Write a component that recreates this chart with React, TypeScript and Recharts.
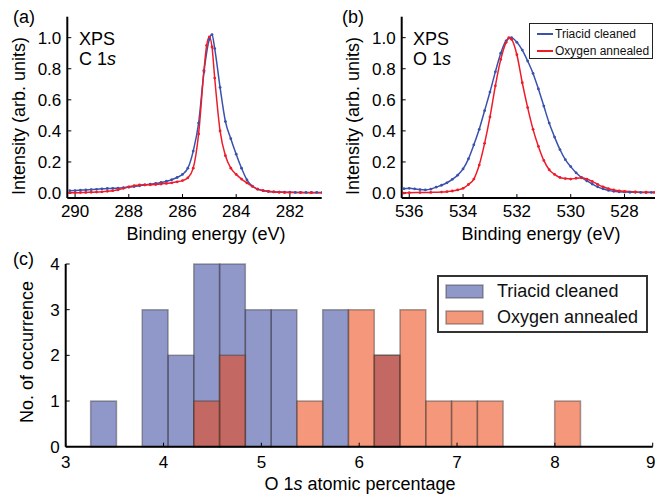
import { LineChart, Line, XAxis, YAxis, ComposedChart, ReferenceArea, Legend } from 'recharts';

const FONT = '"Liberation Sans", Arial, Helvetica, sans-serif';
const BLUE = '#3a52ad';
const RED = '#ee1c2a';
const HIST_BLUE = '#212f93';
const HIST_ORANGE = '#ed420d';

// (a) C 1s spectra
const c1sBlueEnergy = [290.2, 290.0, 289.8, 289.6, 289.4, 289.2, 289.0, 288.8, 288.6, 288.4, 288.2, 288.0, 287.8, 287.6, 287.4, 287.2, 287.0, 286.8, 286.6, 286.4, 286.2, 286.0, 285.8, 285.6, 285.4, 285.2, 285.0, 284.9, 284.8, 284.6, 284.4, 284.2, 284.0, 283.8, 283.6, 283.4, 283.2, 283.0, 282.8, 282.6, 282.4, 282.2, 282.0, 281.8, 281.6, 281.4, 281.2, 281.0, 280.8];
const c1sBlueIntensity = [0.015, 0.016, 0.018, 0.02, 0.022, 0.024, 0.027, 0.029, 0.03, 0.031, 0.034, 0.038, 0.042, 0.047, 0.052, 0.057, 0.062, 0.068, 0.076, 0.086, 0.1, 0.12, 0.16, 0.27, 0.45, 0.78, 0.99, 1.02, 0.93, 0.68, 0.46, 0.35, 0.25, 0.16, 0.085, 0.045, 0.025, 0.016, 0.011, 0.008, 0.006, 0.005, 0.005, 0.004, 0.004, 0.004, 0.004, 0.004, 0.004];
const c1sRedEnergy = [290.2, 290.0, 289.8, 289.6, 289.4, 289.2, 289.0, 288.8, 288.6, 288.4, 288.2, 288.0, 287.8, 287.6, 287.4, 287.2, 287.0, 286.8, 286.6, 286.4, 286.2, 286.0, 285.8, 285.6, 285.4, 285.2, 285.1, 285.0, 284.9, 284.8, 284.6, 284.4, 284.2, 284.0, 283.8, 283.6, 283.4, 283.2, 283.0, 282.8, 282.6, 282.4, 282.2, 282.0, 281.6, 281.2, 280.8];
const c1sRedIntensity = [0.002, 0.002, 0.003, 0.004, 0.005, 0.006, 0.008, 0.011, 0.015, 0.021, 0.03, 0.04, 0.047, 0.052, 0.053, 0.053, 0.055, 0.058, 0.062, 0.066, 0.072, 0.08, 0.098, 0.16, 0.38, 0.79, 0.95, 1.005, 0.94, 0.74, 0.4, 0.24, 0.16, 0.12, 0.09, 0.065, 0.043, 0.025, 0.015, 0.01, 0.007, 0.005, 0.004, 0.003, 0.003, 0.002, 0.002];

// (b) O 1s spectra
const o1sBlueEnergy = [536.2, 536.0, 535.8, 535.6, 535.4, 535.2, 535.0, 534.8, 534.6, 534.4, 534.2, 534.0, 533.8, 533.6, 533.4, 533.2, 533.0, 532.8, 532.6, 532.4, 532.2, 532.0, 531.8, 531.6, 531.4, 531.2, 531.0, 530.8, 530.6, 530.4, 530.2, 530.0, 529.8, 529.6, 529.4, 529.2, 529.0, 528.8, 528.6, 528.4, 528.2, 528.0, 527.8, 527.6, 527.4, 527.2, 527.0];
const o1sBlueIntensity = [0.028, 0.03, 0.027, 0.022, 0.02, 0.025, 0.038, 0.05, 0.066, 0.088, 0.115, 0.155, 0.22, 0.31, 0.41, 0.53, 0.65, 0.78, 0.9, 0.98, 1.0, 0.97, 0.92, 0.85, 0.77, 0.67, 0.56, 0.45, 0.36, 0.28, 0.215, 0.17, 0.13, 0.1, 0.078, 0.058, 0.04, 0.027, 0.017, 0.011, 0.008, 0.006, 0.005, 0.005, 0.004, 0.004, 0.004];
const o1sRedEnergy = [536.2, 536.0, 535.6, 535.2, 534.8, 534.6, 534.4, 534.2, 534.0, 533.8, 533.6, 533.4, 533.2, 533.0, 532.8, 532.6, 532.4, 532.3, 532.2, 532.0, 531.8, 531.6, 531.4, 531.2, 531.0, 530.8, 530.6, 530.4, 530.2, 530.0, 529.8, 529.6, 529.4, 529.2, 529.0, 528.8, 528.6, 528.4, 528.2, 528.0, 527.6, 527.2, 526.9];
const o1sRedIntensity = [0.0, 0.002, 0.003, 0.004, 0.006, 0.009, 0.013, 0.02, 0.03, 0.055, 0.09, 0.18, 0.32, 0.49, 0.69, 0.86, 0.97, 1.0, 0.99, 0.89, 0.71, 0.55, 0.41, 0.3, 0.21, 0.15, 0.12, 0.1, 0.093, 0.09, 0.095, 0.098, 0.09, 0.075, 0.056, 0.04, 0.028, 0.02, 0.014, 0.011, 0.007, 0.005, 0.004];

const intensityTicks = [0, 0.2, 0.4, 0.6, 0.8, 1.0];
const c1sTicks = [282, 284, 286, 288, 290];
const o1sTicks = [528, 530, 532, 534, 536];

// (c) histogram of O 1s atomic percentage
const binEdges = [3.255, 3.519, 3.782, 4.046, 4.309, 4.573, 4.836, 5.1, 5.363, 5.627, 5.89, 6.154, 6.417, 6.681, 6.944, 7.208, 7.471, 7.735, 7.998, 8.262];
const triacidCounts = [1, 0, 3, 2, 4, 4, 3, 3, 0, 3, 0, 2, 0, 0, 0, 0, 0, 0, 0];
const oxygenCounts = [0, 0, 0, 0, 1, 2, 0, 0, 1, 0, 3, 2, 3, 1, 1, 1, 0, 0, 1];
const percentTicks = [3, 4, 5, 6, 7, 8, 9];
const countTicks = [0, 1, 2, 3, 4];

const toPoints = (e: number[], v: number[]) => e.map((x, i) => ({ e: x, i: v[i] }));

const tickStyle = { fill: '#000', fontSize: 17, fontFamily: FONT };
const frameLine = { stroke: '#000', strokeWidth: 2 };

function FrameAxes() {
  return [
    <XAxis key="t" xAxisId="top" orientation="top" type="number" domain={[0, 1]} height={0} tick={false} tickLine={false} axisLine={frameLine} />,
    <YAxis key="r" yAxisId="right" orientation="right" type="number" domain={[0, 1]} width={0} tick={false} tickLine={false} axisLine={frameLine} />,
  ];
}

function SpecLegend() {
  const rows = [
    { name: 'Triacid cleaned', color: BLUE },
    { name: 'Oxygen annealed', color: RED },
  ];
  return (
    <div style={{ border: '1px solid #222', background: '#fff', width: 122, height: 32, padding: '1px 0', boxSizing: 'content-box' }}>
      {rows.map((r) => (
        <div key={r.name} style={{ display: 'flex', alignItems: 'center', height: 17, fontSize: 12, fontFamily: FONT, color: '#111' }}>
          <svg width={24} height={4} style={{ marginLeft: 7 }}>
            <line x1={0} x2={16} y1={2} y2={2} stroke={r.color} strokeWidth={2} />
          </svg>
          <span style={{ marginLeft: -6 }}>{r.name}</span>
        </div>
      ))}
    </div>
  );
}

function HistLegend() {
  const rows = [
    { name: 'Triacid cleaned', color: HIST_BLUE },
    { name: 'Oxygen annealed', color: HIST_ORANGE },
  ];
  return (
    <div style={{ border: '2px solid #333', background: '#fff', width: 207, height: 53, paddingTop: 1 }}>
      {rows.map((r) => (
        <div key={r.name} style={{ display: 'flex', alignItems: 'center', height: 26, fontSize: 18, fontFamily: FONT, color: '#111' }}>
          <svg width={40} height={15} style={{ marginLeft: 6 }}>
            <rect x={1} y={1} width={37} height={13} fill={r.color} fillOpacity={r.color === HIST_BLUE ? 0.5 : 0.55} stroke="#3c3c3c" strokeOpacity={0.45} strokeWidth={1.5} />
          </svg>
          <span style={{ marginLeft: 12 }}>{r.name}</span>
        </div>
      ))}
    </div>
  );
}

type SpecProps = {
  left: number;
  width: number;
  margin: { top: number; right: number; bottom: number; left: number };
  xDomain: [number, number];
  xTicks: number[];
  blue: { e: number; i: number }[];
  red: { e: number; i: number }[];
  legend?: boolean;
};

function Spectrum({ left, width, margin, xDomain, xTicks, blue, red, legend }: SpecProps) {
  return (
    <div style={{ position: 'absolute', left, top: 0 }}>
      <LineChart width={width} height={250} margin={margin}>
        <XAxis type="number" dataKey="e" domain={xDomain} ticks={xTicks} reversed allowDataOverflow height={30}
          tickSize={-4} tickMargin={11} tick={tickStyle} axisLine={frameLine} tickLine={{ stroke: '#000' }} />
        <YAxis type="number" domain={[-0.032, 1.135]} ticks={intensityTicks} allowDataOverflow width={60}
          tickFormatter={(v: number) => v.toFixed(1)} tickSize={-4} tickMargin={10} tick={tickStyle}
          axisLine={frameLine} tickLine={{ stroke: '#000' }} />
        {FrameAxes()}
        <Line data={blue} dataKey="i" type="monotone" stroke={BLUE} strokeWidth={1.5}
          dot={{ r: 1.4, fill: BLUE, stroke: 'none' }} activeDot={false} isAnimationActive={false} />
        <Line data={red} dataKey="i" type="monotone" stroke={RED} strokeWidth={1.5}
          dot={{ r: 1.4, fill: RED, stroke: 'none' }} activeDot={false} isAnimationActive={false} />
        {legend && (
          <Legend layout="vertical" align="center" verticalAlign="middle" content={() => <SpecLegend />}
            wrapperStyle={{ left: 199, top: 23, width: 124, height: 34 }} />
        )}
      </LineChart>
    </div>
  );
}

function Histogram() {
  const rows = binEdges.slice(0, -1).map((x, k) => ({ left: x, right: binEdges[k + 1], triacid: triacidCounts[k], oxygen: oxygenCounts[k] }));
  const barStroke = { stroke: '#3c3c3c', strokeOpacity: 0.45, strokeWidth: 1.5 };
  return (
    <div style={{ position: 'absolute', left: 0, top: 250 }}>
      <ComposedChart width={655} height={246} data={rows} margin={{ top: 14, right: 2.3, bottom: 19.3, left: 5.7 }}>
        <XAxis type="number" dataKey="left" domain={[3, 9]} ticks={percentTicks} allowDataOverflow height={30}
          tickSize={-4} tickMargin={13} tick={tickStyle} axisLine={frameLine} tickLine={{ stroke: '#000' }} />
        <YAxis type="number" domain={[0, 4]} ticks={countTicks} allowDataOverflow width={60}
          tickSize={-4} tickMargin={10} tick={tickStyle} axisLine={frameLine} tickLine={{ stroke: '#000' }} />
        {FrameAxes()}
        {rows.map((r) => r.triacid > 0 && (
          <ReferenceArea key={`t${r.left}`} x1={r.left} x2={r.right} y1={0} y2={r.triacid}
            fill={HIST_BLUE} fillOpacity={0.5} {...barStroke} ifOverflow="visible" />
        ))}
        {rows.map((r) => r.oxygen > 0 && (
          <ReferenceArea key={`o${r.left}`} x1={r.left} x2={r.right} y1={0} y2={r.oxygen}
            fill={HIST_ORANGE} fillOpacity={0.55} {...barStroke} ifOverflow="visible" />
        ))}
        <Legend layout="vertical" align="center" verticalAlign="middle" content={() => <HistLegend />}
          wrapperStyle={{ left: 437, top: 25, width: 211, height: 57 }} />
      </ComposedChart>
    </div>
  );
}

export default function App() {
  const t = { fontFamily: FONT, fontSize: 18, fill: '#000' };
  return (
    <div style={{ position: 'absolute', left: 0, top: 0, width: 655, height: 496, overflow: 'hidden', background: '#fff', fontFamily: FONT }}>
      <Spectrum left={0} width={330} margin={{ top: 16.7, right: 8.3, bottom: 22, left: 7.3 }}
        xDomain={[280.815, 290.29]} xTicks={c1sTicks}
        blue={toPoints(c1sBlueEnergy, c1sBlueIntensity)} red={toPoints(c1sRedEnergy, c1sRedIntensity)} />
      <Spectrum left={330} width={326} margin={{ top: 16.7, right: 0.5, bottom: 22, left: 11.7 }}
        xDomain={[526.85, 536.28]} xTicks={o1sTicks}
        blue={toPoints(o1sBlueEnergy, o1sBlueIntensity)} red={toPoints(o1sRedEnergy, o1sRedIntensity)} legend />
      <Histogram />
      <svg width={655} height={496} style={{ position: 'absolute', left: 0, top: 0, pointerEvents: 'none' }}>
        <text x={13} y={23} {...t}>(a)</text>
        <text x={342} y={23} {...t}>(b)</text>
        <text x={13} y={265} {...t}>(c)</text>
        <text x={79} y={45} {...t}>XPS</text>
        <text x={79} y={65} {...t}>C 1<tspan fontStyle="italic">s</tspan></text>
        <text x={413} y={45} {...t}>XPS</text>
        <text x={413} y={65} {...t}>O 1<tspan fontStyle="italic">s</tspan></text>
        <text transform="translate(25,116) rotate(-90)" textAnchor="middle" {...t}>Intensity (arb. units)</text>
        <text transform="translate(359,116) rotate(-90)" textAnchor="middle" {...t}>Intensity (arb. units)</text>
        <text transform="translate(33,352) rotate(-90)" textAnchor="middle" {...t}>No. of occurrence</text>
        <text x={206} y={240} textAnchor="middle" {...t}>Binding energy (eV)</text>
        <text x={541} y={240} textAnchor="middle" {...t}>Binding energy (eV)</text>
        <text x={360} y={490} textAnchor="middle" {...t}>O 1<tspan fontStyle="italic">s</tspan> atomic percentage</text>
      </svg>
    </div>
  );
}
